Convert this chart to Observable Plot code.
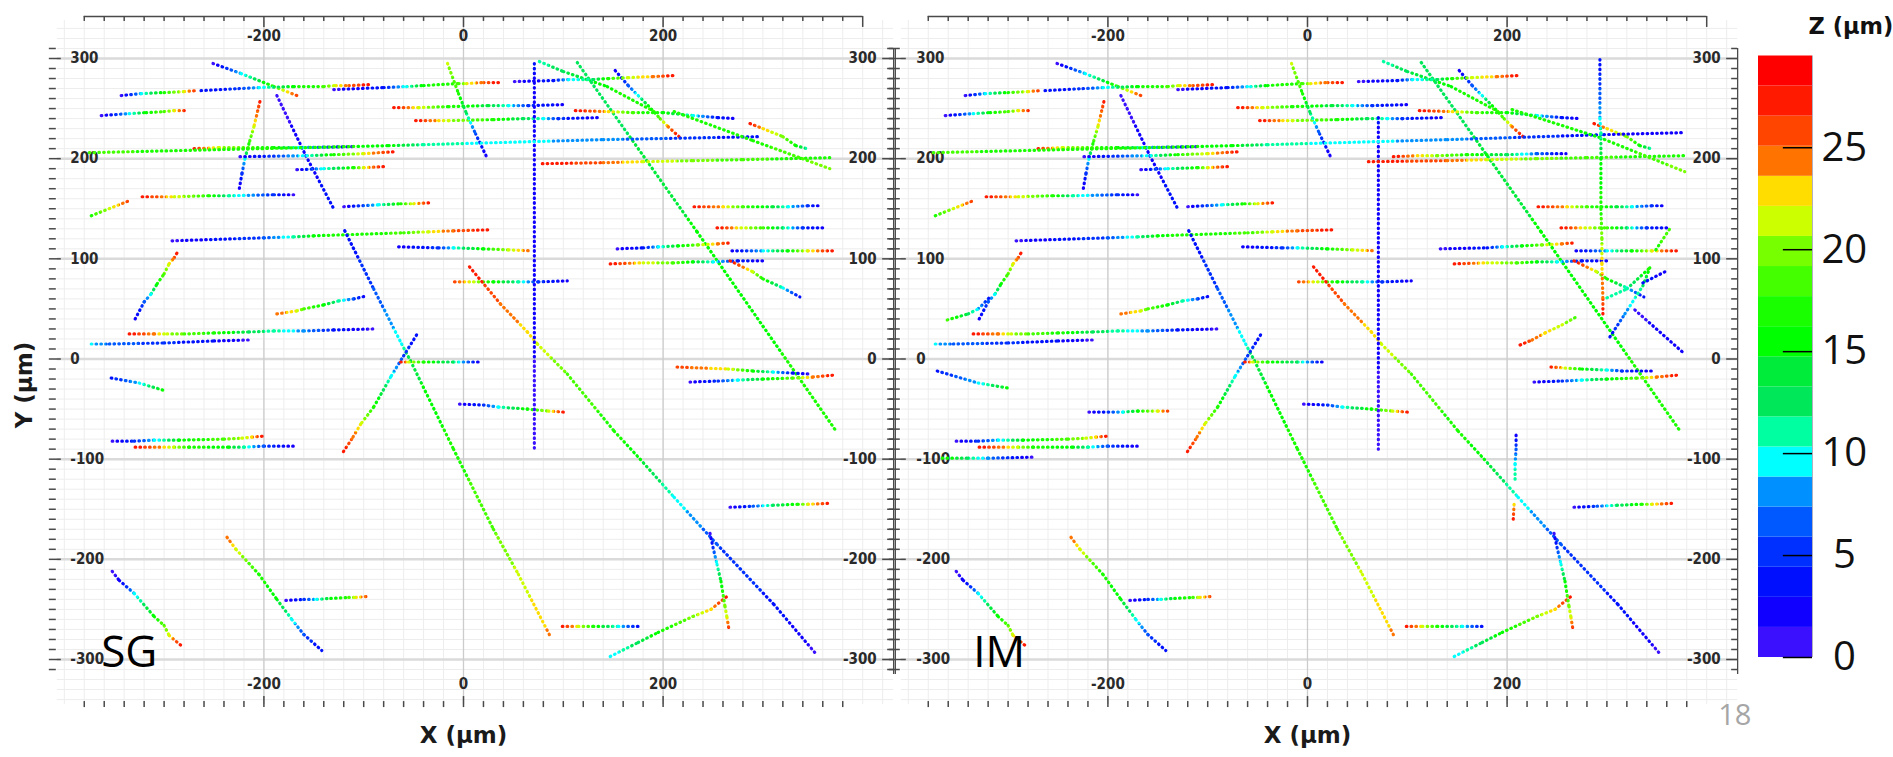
<!DOCTYPE html>
<html><head><meta charset="utf-8">
<script src="https://cdn.jsdelivr.net/npm/d3@7"></script>
<script src="https://cdn.jsdelivr.net/npm/@observablehq/plot@0.6"></script>
<style>
html,body{margin:0;padding:0;background:#fff;}
#root{position:relative;width:1893px;height:757px;overflow:hidden;background:#fff;}
</style></head><body>
<div id="root"></div>
<script>
// ---------- colour bar (Z, µm) ----------
const zEdges = [0,1.475,2.95,4.425,5.9,7.375,8.85,10.325,11.8,13.275,14.75,16.225,17.7,19.175,20.65,22.125,23.6,25.075,26.55,28.025,29.5];
const zColors = ["#3a10ff","#1000ff","#0010ff","#0030ff","#0058ff","#0090ff","#00ffff","#00ffa0","#00e85a","#00ec3a","#00ff00","#1aff00","#44ff00","#77ff00","#ccff00","#ffdd00","#ff7300","#ff4500","#ff1a00","#ff0000"];
const zTickLabels = [0,5,10,15,20,25];
const xTickLabels = [-200,0,200];
const yTickLabels = [-300,-200,-100,0,100,200,300];

// ---------- tracks: each vertex is [x µm, y µm, z µm] ----------
const sharedTracks = [
 [[-251,295,1],[-223,285,9],[-190,272,18],[-167,263,26]],
 [[-343,263,1],[-323,265,9],[-300,266,17],[-280,267,22],[-267,268,27]],
 [[-263,268,3],[-225,270,5],[-205,271,9],[-170,272,16],[-140,272,18],[-128,273,22],[-115,273,25],[-93,274,28]],
 [[-130,269,1],[-80,271,4],[-57,272,10],[-40,273,16],[-5,275,18],[3,275,22],[20,276,25],[36,276,28]],
 [[-363,243,1],[-335,245,9],[-318,246,16],[-300,247,19],[-290,248,22],[-277,248,28]],
 [[-204,257,27],[-210,232,22],[-215,215,17],[-219,200,10],[-222,185,5],[-225,168,1]],
 [[-187,263,1],[-158,203,2],[-130,150,4]],
 [[-270,210,27],[-245,211,21],[-190,211,16],[-165,211,10],[-110,212,1]],
 [[-224,202,1],[-157,203,10],[-130,204,17],[-100,205,22],[-68,207,28]],
 [[-167,189,1],[-140,190,10],[-110,191,17],[-100,191,22],[-80,192,28]],
 [[-322,162,28],[-290,162,22],[-255,163,17],[-235,163,11],[-190,164,5],[-170,164,1]],
 [[-373,143,17],[-335,158,26]],
 [[-120,152,1],[-85,154,10],[-63,155,17],[-50,155,22],[-32,156,28]],
 [[-292,118,1],[-200,121,6],[-170,122,11],[-150,123,16],[-60,126,18],[-35,127,22],[-10,128,25],[27,129,28]],
 [[-119,128,3],[-90,70,6],[-62,15,10],[-53,-2,14],[-10,-90,17],[30,-170,19],[55,-215,21],[87,-277,24]],
 [[-47,24,3],[-62,0,6],[-73,-18,10],[-90,-48,17],[-103,-65,22],[-112,-80,25],[-122,-95,28]],
 [[-65,112,2],[-25,111,5],[-10,111,10],[20,110,16],[45,109,21],[67,108,25]],
 [[-9,77,26],[10,77,21],[30,77,16],[55,77,11],[75,77,5],[104,78,2]],
 [[6,92,28],[37,55,25],[64,27,23],[74,15,22],[104,-15,19],[151,-72,17],[177,-100,15],[211,-138,10],[254,-185,6],[311,-245,4],[352,-293,1]],
 [[76,297,11],[100,287,13],[144,272,16],[191,247,18]],
 [[114,296,12],[234,127,15],[372,-70,17]],
 [[152,288,2],[165,273,6],[175,263,10],[185,253,15],[197,240,19],[205,232,24],[216,222,28]],
 [[51,277,1],[90,278,4],[105,279,9],[130,279,12],[145,280,17],[165,281,21],[190,282,24],[211,283,28]],
 [[-70,251,28],[-45,251,22],[-15,252,17],[25,253,14],[45,253,10],[65,253,5],[102,254,2]],
 [[-48,238,28],[-25,238,23],[-15,238,21],[30,239,17],[60,240,13],[80,240,10],[95,240,5],[136,241,2]],
 [[-16,295,21],[-5,265,17],[3,245,12],[12,225,6],[24,200,1]],
 [[112,248,28],[145,247,23],[170,246,18],[200,246,16],[230,243,10],[255,241,4],[273,240,2]],
 [[287,235,28],[300,230,23],[320,222,20],[333,213,16],[344,210,11]],
 [[231,152,28],[260,152,23],[280,152,18],[310,152,14],[325,152,10],[345,153,5],[359,153,2]],
 [[254,131,28],[278,131,22],[300,131,18],[320,131,12],[340,131,5],[364,131,2]],
 [[269,108,2],[300,108,9],[325,108,16],[345,108,22],[371,108,28]],
 [[147,95,28],[180,96,22],[210,96,19],[230,97,15],[250,97,10],[275,98,4],[302,98,2]],
 [[267,98,28],[290,87,21],[300,80,17],[320,71,10],[337,62,3]],
 [[-63,-3,28],[-55,-3,22],[-40,-3,17],[-10,-3,12],[16,-3,2]],
 [[-4,-45,1],[20,-46,5],[35,-48,10],[64,-50,16],[85,-52,21],[101,-53,28]],
 [[227,-23,1],[255,-22,5],[275,-21,10],[300,-20,15],[330,-19,19],[350,-18,24],[372,-16,28]],
 [[267,-148,1],[290,-147,6],[310,-146,12],[335,-145,17],[345,-145,22],[369,-144,28]],
 [[99,-267,28],[115,-267,22],[130,-267,17],[155,-267,10],[176,-267,3]],
 [[147,-297,9],[175,-283,13],[195,-273,16],[230,-257,20],[248,-250,23],[264,-237,28]],
 [[247,-174,1],[250,-188,5],[254,-205,10],[258,-222,15],[262,-247,20],[264,-258,22],[266,-270,27]],
 [[-352,-82,1],[-330,-82,5],[-310,-81,9],[-285,-81,15],[-240,-80,19],[-222,-79,21],[-212,-78,23],[-200,-77,28]],
 [[-329,-88,28],[-305,-88,24],[-290,-88,21],[-275,-88,17],[-235,-88,15],[-220,-88,11],[-200,-87,6],[-167,-87,1]],
 [[-352,-212,1],[-345,-221,2],[-330,-234,9],[-310,-257,16],[-300,-266,19],[-295,-276,22],[-283,-286,28]],
 [[-237,-178,25],[-228,-190,22],[-215,-204,19],[-205,-215,17],[-187,-240,15],[-172,-260,10],[-160,-275,6],[-142,-291,3]],
 [[-178,-241,1],[-160,-240,5],[-147,-240,10],[-133,-239,15],[-115,-238,18],[-108,-238,22],[-95,-237,26]],
 [[-329,40,2],[-320,57,6],[-313,65,10],[-307,75,16],[-300,85,19],[-295,95,22],[-290,101,25],[-287,106,28]],
 [[-187,45,25],[-167,48,22],[-160,50,19],[-140,54,16],[-125,58,11],[-110,60,6],[-97,63,2]],
 [[-335,25,28],[-310,25,24],[-297,25,21],[-280,25,19],[-250,26,17],[-215,27,13],[-190,28,11],[-160,28,8],[-130,29,4],[-90,30,1]],
 [[-373,15,9],[-355,15,7],[-300,16,5],[-250,18,3],[-215,19,1]]
];
const sgOnlyTracks = [
 [[71,295,3],[71,-90,1]],
 [[-375,206,18],[-75,213,16],[-40,214,11],[140,219,8],[297,222,3]],
 [[-353,-19,4],[-325,-24,9],[-298,-32,17]],
 [[154,110,1],[180,111,4],[195,112,9],[215,113,15],[235,114,20],[255,115,24],[269,116,28]],
 [[214,-8,26],[265,-10,22],[290,-12,16],[310,-13,10],[330,-14,4],[347,-15,1]],
 [[79,195,28],[140,196,25],[180,197,22],[230,198,20],[280,199,18],[367,201,17]],
 [[211,247,17],[290,218,17],[367,190,20]]
];
const imOnlyTracks = [
 [[71,241,3],[71,-90,1]],
 [[-375,206,18],[-75,213,16],[-40,214,11],[140,219,8],[297,224,3],[378,226,2]],
 [[-371,-12,4],[-330,-24,9],[-300,-29,16]],
 [[133,110,1],[180,111,4],[195,112,9],[215,113,15],[235,114,20],[255,115,24],[269,116,28]],
 [[244,-8,27],[258,-9,22],[275,-10,16],[300,-11,10],[315,-12,5],[346,-12,2]],
 [[61,197,28],[140,198,25],[180,199,22],[230,200,20],[280,201,18],[378,203,17]],
 [[205,249,17],[293,221,16],[378,187,20]],
 [[-361,39,18],[-340,45,13],[-330,50,9],[-319,61,4]],
 [[-366,-99,17],[-340,-99,12],[-320,-99,8],[-276,-98,1]],
 [[-219,-53,1],[-195,-53,6],[-185,-53,10],[-170,-52,16],[-150,-52,22],[-140,-52,26]],
 [[209,-76,2],[209,-90,6],[208,-105,10],[208,-121,11]],
 [[207,-145,23],[206,-163,28]],
 [[293,299,3],[293,240,9],[294,225,11],[294,200,15],[294,150,17],[295,120,20],[295,95,23],[296,60,25],[296,42,28]],
 [[303,22,3],[318,45,8],[336,73,12],[343,91,17]],
 [[300,61,11],[320,70,11],[343,91,17]],
 [[328,49,1],[378,5,3]],
 [[336,76,4],[360,88,2]],
 [[213,14,28],[225,19,25],[238,26,23],[255,34,21],[271,43,18]],
 [[86,202,28],[110,203,23],[130,203,20],[160,204,17],[200,204,13],[230,205,7],[259,205,2]],
 [[349,109,17],[363,130,19]]
];

// ---------- helpers ----------
const FONT_TICK = '"Liberation Sans Narrow","DejaVu Sans Condensed","Arial Narrow",sans-serif';
const FONT_AXIS = '"DejaVu Sans",Verdana,sans-serif';
const FONT_BIG = '"Open Sans","Noto Sans",sans-serif';
const NS = "http://www.w3.org/2000/svg";
const root = document.getElementById("root");

function colorOf(z) {
  let i = d3.bisectRight(zEdges, z) - 1;
  i = Math.max(0, Math.min(zColors.length - 1, i));
  return zColors[i];
}

function makePanel({tracks, name, left, nameX, leftLine, yTitle}) {
  const W = 900, H = 757, x0 = 463, kx = 0.998;
  const segs = [];
  tracks.forEach((tr, ti) => {
    for (let i = 0; i < tr.length - 1; i++) segs.push({a: tr[i], b: tr[i + 1], id: `g-${name}-${ti}-${i}`});
  });
  const xMinor = d3.range(-400, 421, 20);
  const yMinor = d3.range(-340, 331, 10);
  const topTicks = d3.range(-380, 401, 20);
  const botTicks = d3.range(-380, 381, 20);
  const sideTicks = d3.range(-310, 311, 10);
  const isMajorX = v => v % 200 === 0;
  const isMajorY = v => v % 100 === 0;
  const tickStroke = "#4a4a4a";
  const textOpts = {fontFamily: FONT_TICK, fontWeight: "bold", fontSize: 15, fill: "#2a2a2a", lineAnchor: "middle"};
  const marks = [
    // grid
    Plot.ruleY(yMinor, {x1: -407, x2: 431, stroke: "#ededed", strokeWidth: 1}),
    Plot.ruleX(xMinor, {y1: -345, y2: 338, stroke: "#ededed", strokeWidth: 1}),
    Plot.ruleY(yTickLabels, {x1: -407, x2: 431, stroke: "#dadada", strokeWidth: 2.5}),
    Plot.ruleX(xTickLabels, {y1: -345, y2: 338, stroke: "#cccccc", strokeWidth: 1.3}),
    // top axis
    Plot.ruleY([342], {x1: -380, x2: 400, stroke: tickStroke, strokeWidth: 1.5}),
    Plot.ruleX(topTicks, {y1: 342, y2: d => isMajorX(d) ? 331 : 337, stroke: tickStroke, strokeWidth: 1.5}),
    Plot.text(xTickLabels, {x: d => d, y: 322, text: d => String(d), ...textOpts}),
    // bottom axis
    Plot.ruleX(botTicks, {y1: -348, y2: d => isMajorX(d) ? -337 : -342, stroke: tickStroke, strokeWidth: 1.5}),
    Plot.text(xTickLabels, {x: d => d, y: -325, text: d => String(d), ...textOpts}),
    // left axis
    Plot.ruleY(sideTicks, {x1: leftLine ? -419 : -415, x2: d => isMajorY(d) ? (leftLine ? -402 : -403) : -408, stroke: tickStroke, strokeWidth: 1.5}),
    Plot.text(yTickLabels, {x: leftLine ? -392 : -394, y: d => d, text: d => String(d), textAnchor: "start", ...textOpts}),
    // right axis
    Plot.ruleX([431], {y1: -315, y2: 310, stroke: tickStroke, strokeWidth: 1.3}),
    Plot.ruleY(sideTicks, {x1: d => isMajorY(d) ? 420 : 425, x2: 431, stroke: tickStroke, strokeWidth: 1.5}),
    Plot.text(yTickLabels, {x: 414, y: d => d, text: d => String(d), textAnchor: "end", ...textOpts}),
    // tracks (dotted, coloured by Z along the track)
    Plot.link(segs, {x1: d => d.a[0], y1: d => d.a[1], x2: d => d.b[0], y2: d => d.b[1],
      stroke: d => `url(#${d.id})`, strokeWidth: 3.2, strokeDasharray: "0.6,4.2", strokeLinecap: "round"}),
    // panel name and axis title
    Plot.text([name], {x: nameX, y: -307, text: d => d, fontFamily: FONT_BIG, fontSize: 44, fill: "#000", textAnchor: "start", lineAnchor: "bottom"}),
    Plot.text(["X (µm)"], {x: 0, y: -375.5, text: d => d, fontFamily: FONT_AXIS, fontWeight: "bold", fontSize: 23, fill: "#1a1a1a", lineAnchor: "middle"})
  ];
  if (leftLine) marks.push(Plot.ruleX([-413], {y1: -315, y2: 310, stroke: tickStroke, strokeWidth: 1.3}));
  if (yTitle) marks.push(Plot.text(["Y (µm)"], {x: -440, y: -26, text: d => d, rotate: -90, fontFamily: FONT_AXIS, fontWeight: "bold", fontSize: 23, fill: "#1a1a1a", lineAnchor: "middle"}));

  const plot = Plot.plot({
    width: W, height: H,
    marginLeft: x0 - 400 * kx, marginRight: W - (x0 + 400 * kx),
    marginTop: 58, marginBottom: H - 659,
    x: {domain: [-400, 400], axis: null},
    y: {domain: [-300, 300], axis: null},
    color: {type: "identity"},
    style: {position: "absolute", left: left + "px", top: "0px", background: "transparent", overflow: "visible", maxWidth: "none"},
    marks
  });
  // colour gradients along each segment, positioned with the plot's own scales
  const sx = plot.scale("x"), sy = plot.scale("y");
  const defs = document.createElementNS(NS, "defs");
  for (const s of segs) {
    const g = document.createElementNS(NS, "linearGradient");
    g.setAttribute("id", s.id);
    g.setAttribute("gradientUnits", "userSpaceOnUse");
    g.setAttribute("x1", sx.apply(s.a[0])); g.setAttribute("y1", sy.apply(s.a[1]));
    g.setAttribute("x2", sx.apply(s.b[0])); g.setAttribute("y2", sy.apply(s.b[1]));
    const za = s.a[2], zb = s.b[2];
    const stops = [[0, colorOf(za)]];
    if (za !== zb) {
      const ts = zEdges.filter(e => e > Math.min(za, zb) && e < Math.max(za, zb)).map(e => (e - za) / (zb - za)).sort((p, q) => p - q);
      for (const t of ts) {
        stops.push([t, colorOf(za + (zb - za) * (t - 1e-4))]);
        stops.push([t, colorOf(za + (zb - za) * (t + 1e-4))]);
      }
    }
    stops.push([1, colorOf(zb)]);
    for (const [o, c] of stops) {
      const st = document.createElementNS(NS, "stop");
      st.setAttribute("offset", o); st.setAttribute("stop-color", c);
      g.appendChild(st);
    }
    defs.appendChild(g);
  }
  plot.insertBefore(defs, plot.firstChild);
  root.appendChild(plot);
}

makePanel({tracks: [...sharedTracks, ...sgOnlyTracks], name: "SG", left: 0, nameX: -363, leftLine: false, yTitle: true});
makePanel({tracks: [...sharedTracks, ...imOnlyTracks], name: "IM", left: 844, nameX: -335, leftLine: true, yTitle: false});

// ---------- colour bar ----------
const bands = zColors.map((c, i) => ({lo: zEdges[i], hi: zEdges[i + 1], color: c}));
const cb = Plot.plot({
  width: 193, height: 757,
  marginLeft: 58, marginRight: 81, marginTop: 55.5, marginBottom: 100,
  x: {domain: [0, 1], axis: null},
  y: {domain: [0, 29.5], axis: null},
  color: {type: "identity"},
  style: {position: "absolute", left: "1700px", top: "0px", background: "transparent", overflow: "visible", maxWidth: "none"},
  marks: [
    Plot.rect(bands, {x1: 0, x2: 1, y1: "lo", y2: "hi", fill: "color"}),
    Plot.ruleX([1], {y1: 0, y2: 29.5, stroke: "#b0b0c0", strokeWidth: 1}),
    Plot.ruleY(zTickLabels, {x1: 0.46, x2: 1, stroke: "#000", strokeWidth: 1.5}),
    Plot.text(zTickLabels, {x: 1.59, y: d => d, text: d => String(d), fontFamily: FONT_BIG, fontSize: 40, fill: "#111", lineAnchor: "middle"}),
    Plot.text(["Z (µm)"], {x: 0.926, y: 30.6, text: d => d, fontFamily: FONT_AXIS, fontWeight: "bold", fontSize: 22.5, fill: "#111", textAnchor: "start", lineAnchor: "bottom"}),
    Plot.text(["18"], {x: -0.44, y: -3.33, text: d => d, fontFamily: FONT_BIG, fontSize: 29, fill: "#a6a6a6", lineAnchor: "bottom"})
  ]
});
root.appendChild(cb);
</script>
</body></html>
